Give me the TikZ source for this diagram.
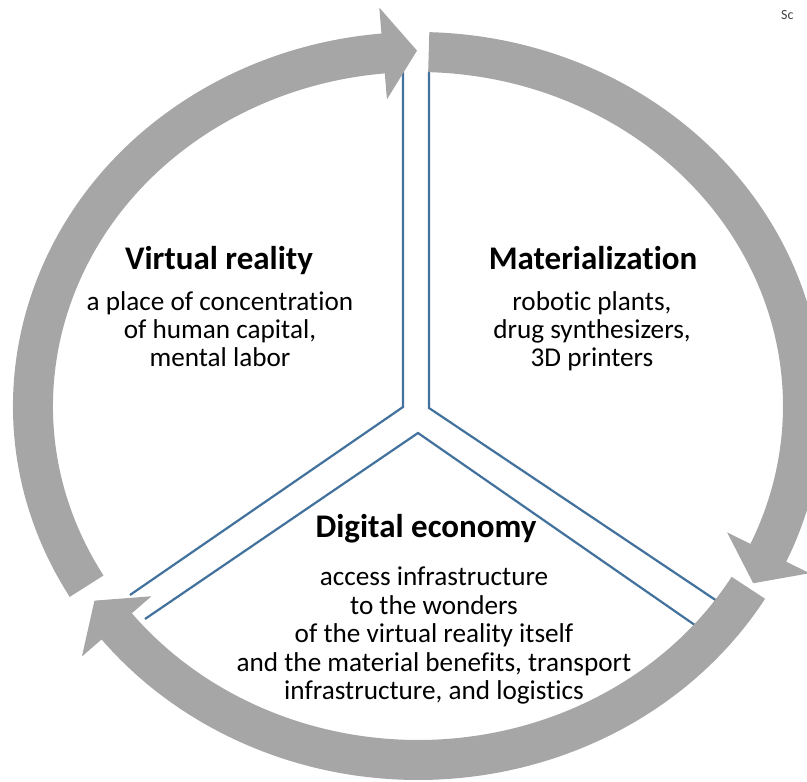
\documentclass[tikz,border=0pt]{standalone}
\usepackage{fontspec}
\setmainfont{Carlito}[Ligatures=CommonOff]
\usepackage{tikz}
\usetikzlibrary{calc,positioning}
\definecolor{ringgrey}{RGB}{166,166,166}
\definecolor{splitblue}{RGB}{65,113,156}
\definecolor{notegrey}{RGB}{64,64,64}
\tikzset{
  ringband/.style={draw=ringgrey,line width=40pt,line cap=butt},
  ringhead/.style={fill=ringgrey},
  splitline/.style={draw=splitblue,line width=2.2pt,line join=miter},
  sectorhead/.style={font=\fontsize{33}{38}\selectfont\bfseries,inner sep=0pt},
  sectortext/.style={font=\fontsize{27.2}{28.4}\selectfont,align=center,inner sep=0pt},
  cornernote/.style={font=\fontsize{14}{16}\selectfont,text=notegrey,inner sep=0pt}
}
\newcommand{\ringrx}{385}
\newcommand{\ringry}{354}
% #1 tail angle, #2 angle of the head base, #3 name of the head base
\newcommand{\ringarrow}[3]{%
  \draw[ringband] ($(ctr)+({\ringrx*cos(#1)},{\ringry*sin(#1)})$)
    arc[start angle=#1,end angle=#2-1,x radius=\ringrx,y radius=\ringry];
  \pgfmathsetmacro{\tdx}{\ringrx*sin(#2)}
  \pgfmathsetmacro{\tdy}{-\ringry*cos(#2)}
  \pgfmathsetmacro{\tlen}{veclen(\tdx,\tdy)}
  \pgfmathsetmacro{\ux}{\tdx/\tlen}
  \pgfmathsetmacro{\uy}{\tdy/\tlen}
  \coordinate (#3) at ($(ctr)+({\ringrx*cos(#2)},{\ringry*sin(#2)})$);
  \fill[ringhead] ($(#3)+({-46*\uy},{46*\ux})$) -- ($(#3)+({34*\ux},{34*\uy})$)
    -- ($(#3)+({46*\uy},{-46*\ux})$) -- cycle;
}

\begin{document}
\begin{tikzpicture}[x=1pt,y=1pt]
  \useasboundingbox (0,0) rectangle (807,782);
  \coordinate (ctr) at (418,376);

  % separators between the three sectors
  \coordinate (vtopL) at (403,710);
  \coordinate (hubL) at (403,375);
  \coordinate (footL) at (130,187);
  \coordinate (vtopR) at (429,710);
  \coordinate (hubR) at (429,374);
  \coordinate (footR) at (723,177);
  \coordinate (lowL) at (145,163);
  \coordinate (apex) at (418,349);
  \coordinate (lowR) at (702,152);
  \draw[splitline] (vtopL) -- (hubL) -- (footL);
  \draw[splitline] (vtopR) -- (hubR) -- (footR);
  \draw[splitline] (lowL) -- (apex) -- (lowR);

  % cycle arrows
  \ringarrow{210.6}{95.2}{headtop}
  \ringarrow{88.4}{-24.5}{headright}
  \ringarrow{-30.9}{-141.5}{headleft}

  \node[sectorhead,anchor=base] (vrhead) at (219,512) {Virtual reality};
  \node[sectortext,below=21pt of vrhead.base,xshift=1pt] (vrtext)
    {a place of concentration\\of human capital,\\mental labor};
  \node[sectorhead,anchor=base] (mathead) at (593,512) {Materialization};
  \node[sectortext,below=21pt of mathead.base,xshift=-1pt] (mattext)
    {robotic plants,\\drug synthesizers,\\3D printers};
  \node[sectorhead,anchor=base] (dehead) at (426,244) {Digital economy};
  \node[sectortext,below=29pt of dehead.base,xshift=8pt] (detext)
    {access infrastructure\\to the wonders\\of the virtual reality itself\\and the material benefits, transport\\infrastructure, and logistics};
  \node[cornernote,anchor=base west] (note) at (781,762) {Sc};
\end{tikzpicture}
\end{document}
